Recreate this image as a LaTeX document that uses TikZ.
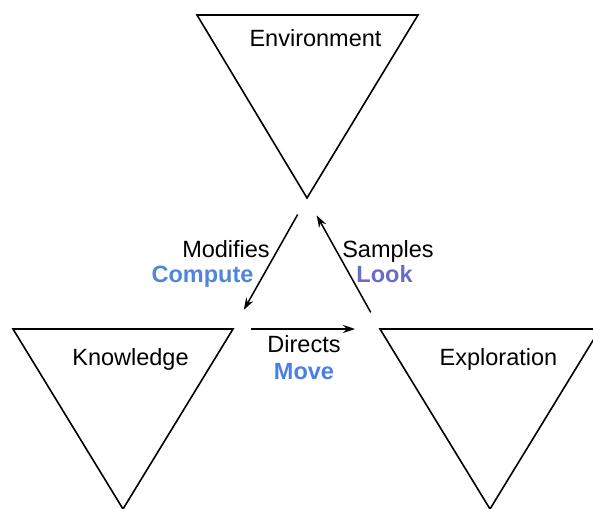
\documentclass[tikz,border=0pt]{standalone}
\usepackage{fontspec}
\setmainfont{Liberation Sans}
\usepackage{xcolor}
\usetikzlibrary{arrows.meta}
\definecolor{cmpBlue}{HTML}{4F86D9}
\definecolor{lookViolet}{HTML}{6B6CC4}
\definecolor{moveBlue}{HTML}{4A80E6}

\begin{document}
\begin{tikzpicture}[x=1pt, y=-1pt, font=\fontsize{23.5}{28}\selectfont,
    tri/.style={draw,line width=1.6pt,line join=miter},
    flow/.style={-{Stealth[length=12pt,width=8pt]},line width=1.5pt},
    lbl/.style={anchor=base,inner sep=0pt},
    act/.style={lbl,font=\fontsize{23.5}{28}\selectfont\bfseries}]
    \useasboundingbox (0,0) rectangle (593,508);
    \clip (0,0) rectangle (593,508);

    % corners of the three triangles
    \coordinate (envL) at (197,15);
    \coordinate (envR) at (418,15);
    \coordinate (envTip) at (307,198);
    \coordinate (knowL) at (13,329);
    \coordinate (knowR) at (233,329);
    \coordinate (knowTip) at (123,509);
    \coordinate (explL) at (380,329);
    \coordinate (explR) at (600,329);
    \coordinate (explTip) at (490,509);

    \draw[tri] (envL) -- (envR) -- (envTip) -- cycle;
    \draw[tri] (knowL) -- (knowR) -- (knowTip) -- cycle;
    \draw[tri] (explL) -- (explR) -- (explTip) -- cycle;

    \node[lbl] (env)  at (315.5,47)  {Environment};
    \node[lbl] (know) at (130.5,365) {Knowledge};
    \node[lbl] (expl) at (498.5,365) {Exploration};

    \draw[flow,shorten <=19pt,shorten >=22pt] (envTip) -- (knowR);
    \draw[flow,shorten <=18pt,shorten >=25pt] (knowR) -- (explL);
    \draw[flow,shorten <=19pt,shorten >=20pt] (explL) -- (envTip);

    \node[lbl] (mod) at (226,257) {Modifies};
    \node[act,text=cmpBlue] (cmp) at (202.5,282) {Compute};
    \node[lbl] (smp) at (388,257) {Samples};
    \node[act,text=lookViolet] (look) at (384.5,282) {Look};
    \node[lbl] (dir) at (304,352) {Directs};
    \node[act,text=moveBlue] (mov) at (304,379) {Move};
\end{tikzpicture}
\end{document}
